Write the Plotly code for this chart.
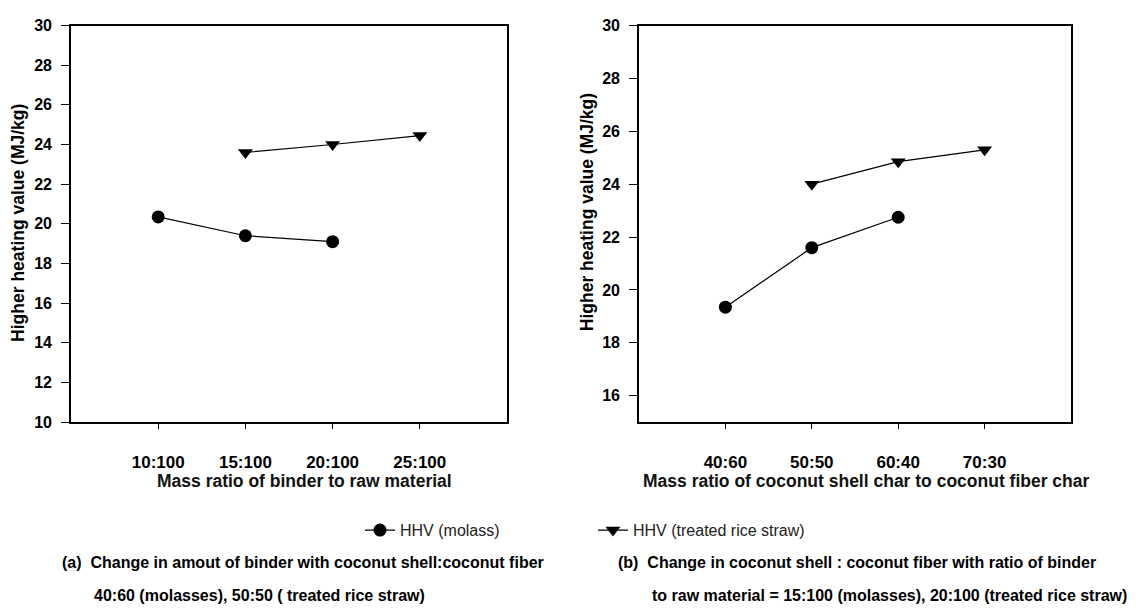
import plotly.graph_objects as go

# ---- data ----
binder_ratio = ["10:100", "15:100", "20:100", "25:100"]
molass_binder_x = ["10:100", "15:100", "20:100"]
molass_binder_hhv = [20.35, 19.4, 19.1]
straw_binder_x = ["15:100", "20:100", "25:100"]
straw_binder_hhv = [23.6, 24.0, 24.45]

shell_ratio = ["40:60", "50:50", "60:40", "70:30"]
molass_shell_x = ["40:60", "50:50", "60:40"]
molass_shell_hhv = [19.35, 21.6, 22.75]
straw_shell_x = ["50:50", "60:40", "70:30"]
straw_shell_hhv = [24.0, 24.85, 25.3]

left_yticks = [10, 12, 14, 16, 18, 20, 22, 24, 26, 28, 30]
right_yticks = [16, 18, 20, 22, 24, 26, 28, 30]

W, H = 1136, 614
FONT = "Liberation Sans, Arial, sans-serif"

def px_x(p):
    return p / W

def px_y(p):
    return 1 - p / H

fig = go.Figure()

line = dict(color="black", width=1.2)
fig.add_trace(go.Scatter(x=molass_binder_x, y=molass_binder_hhv, mode="lines+markers",
                         name="HHV (molass)", line=line,
                         marker=dict(symbol="circle", size=13, color="black"),
                         xaxis="x", yaxis="y", legendrank=1))
fig.add_trace(go.Scatter(x=straw_binder_x, y=straw_binder_hhv, mode="lines+markers",
                         name="HHV (treated rice straw)", line=line,
                         marker=dict(symbol="triangle-down", size=13, color="black"),
                         xaxis="x", yaxis="y", legendrank=2))
fig.add_trace(go.Scatter(x=molass_shell_x, y=molass_shell_hhv, mode="lines+markers",
                         name="HHV (molass)", line=line, showlegend=False,
                         marker=dict(symbol="circle", size=13, color="black"),
                         xaxis="x2", yaxis="y2"))
fig.add_trace(go.Scatter(x=straw_shell_x, y=straw_shell_hhv, mode="lines+markers",
                         name="HHV (treated rice straw)", line=line, showlegend=False,
                         marker=dict(symbol="triangle-down", size=13, color="black"),
                         xaxis="x2", yaxis="y2"))

xcommon = dict(type="category", showgrid=False, zeroline=False, showline=True,
               linecolor="black", linewidth=1.6, mirror=True, ticks="outside",
               ticklen=5, tickwidth=1, tickcolor="black", ticklabelstandoff=19,
               tickfont=dict(family=FONT, size=17, color="black", weight="bold"))
ycommon = dict(showgrid=False, zeroline=False, showline=True, linecolor="black",
               linewidth=1.6, mirror=True, ticks="outside", ticklen=8, tickwidth=1,
               tickcolor="black", ticklabelstandoff=6,
               tickfont=dict(family=FONT, size=16, color="black", weight="bold"))

fig.update_layout(
    width=W, height=H,
    margin=dict(l=0, r=0, t=0, b=0),
    paper_bgcolor="white", plot_bgcolor="white",
    xaxis=dict(xcommon, domain=[px_x(71), px_x(507)], anchor="y",
               categoryorder="array", categoryarray=binder_ratio, range=[-1, 4]),
    yaxis=dict(ycommon, domain=[px_y(426), px_y(18)], anchor="x",
               range=[10, 30], tickvals=left_yticks),
    xaxis2=dict(xcommon, domain=[px_x(639), px_x(1071)], anchor="y2",
                categoryorder="array", categoryarray=shell_ratio, range=[-1, 4]),
    yaxis2=dict(ycommon, domain=[px_y(426), px_y(18)], anchor="x2",
                range=[15, 30], tickvals=right_yticks),
    showlegend=True,
    legend=dict(orientation="h", x=px_x(360), xanchor="left", y=px_y(537), yanchor="middle",
                entrywidth=188, entrywidthmode="pixels",
                font=dict(family=FONT, size=16, color="#222"),
                bgcolor="rgba(0,0,0,0)", borderwidth=0, itemsizing="trace"),
)

ann = []
ytitle_font = dict(family=FONT, size=17.5, color="black", weight="bold")
ann.append(dict(text="Higher heating value (MJ/kg)", x=px_x(18), y=px_y(221), textangle=-90,
                font=ytitle_font))
ann.append(dict(text="Higher heating value (MJ/kg)", x=px_x(587), y=px_y(210), textangle=-90,
                font=ytitle_font))
xtitle_font = dict(family=FONT, size=17.5, color="#111", weight="bold")
ann.append(dict(text="Mass ratio of binder to raw material", x=px_x(304), y=px_y(486),
                font=xtitle_font))
ann.append(dict(text="Mass ratio of coconut shell char to coconut fiber char", x=px_x(866), y=px_y(486),
                font=xtitle_font))
cap_font = dict(family=FONT, size=16, color="black", weight="bold")
ann.append(dict(text="(a)  Change in amout of binder with coconut shell:coconut fiber",
                x=px_x(60), y=px_y(570), xanchor="left", font=cap_font))
ann.append(dict(text="40:60 (molasses), 50:50 ( treated rice straw)",
                x=px_x(92), y=px_y(604), xanchor="left", font=cap_font))
ann.append(dict(text="(b)  Change in coconut shell : coconut fiber with ratio of binder",
                x=px_x(616), y=px_y(570), xanchor="left", font=cap_font))
ann.append(dict(text="to raw material = 15:100 (molasses), 20:100 (treated rice straw)",
                x=px_x(650), y=px_y(604), xanchor="left", font=cap_font))
for a in ann:
    a.update(xref="paper", yref="paper", showarrow=False)
    a.setdefault("xanchor", "center")
    a.setdefault("yanchor", "middle")
fig.update_layout(annotations=ann)

fig.write_html("out.html")
